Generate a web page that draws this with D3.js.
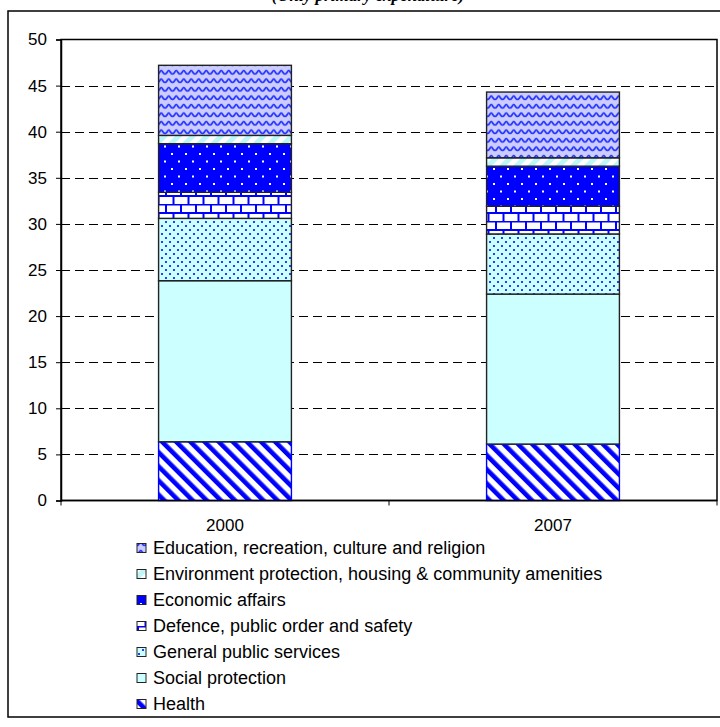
<!DOCTYPE html>
<html>
<head>
<meta charset="utf-8">
<script src="https://cdn.jsdelivr.net/npm/d3@7"></script>
<style>
  html, body { margin: 0; padding: 0; background: #fff; }
  svg { display: block; }
  text { font-family: "Liberation Sans", Arial, sans-serif; }
</style>
</head>
<body>
<svg id="chart" width="720" height="727"></svg>
<script>
// Expenditure by function, % of GDP
const years = ["2000", "2007"];
const categories = [
  "Health",
  "Social protection",
  "General public services",
  "Defence, public order and safety",
  "Economic affairs",
  "Environment protection, housing & community amenities",
  "Education, recreation, culture and religion"
];
const health      = [6.37, 6.12];
const social      = [17.47, 16.27];
const generalPub  = [6.76, 6.52];
const defence     = [2.83, 3.00];
const economic    = [5.27, 4.35];
const environment = [0.90, 0.91];
const education   = [7.60, 7.13];
const yTicks = [0, 5, 10, 15, 20, 25, 30, 35, 40, 45, 50];
const titleText = "(Only primary expenditure)";

const seriesValues = [health, social, generalPub, defence, economic, environment, education];
const patternIds = ["p-health", "p-social", "p-general", "p-defence", "p-economic", "p-environment", "p-education"];

const rows = years.map((y, i) => {
  const r = { year: y };
  categories.forEach((c, k) => { r[c] = seriesValues[k][i]; });
  return r;
});
const stacked = d3.stack().keys(categories)(rows);

const svg = d3.select("#chart");
const defs = svg.append("defs");

// ---- fill patterns ----
const blue = "#0000ff";
function pat(id, w, h, transform) {
  const p = defs.append("pattern").attr("id", id)
    .attr("patternUnits", "userSpaceOnUse")
    .attr("width", w).attr("height", h);
  if (transform) p.attr("patternTransform", transform);
  return p;
}
// Health: diagonal blue stripes
{
  const p = pat("p-health", 10, 10, "rotate(-45)");
  p.append("rect").attr("width", 10).attr("height", 10).attr("fill", "#fff");
  p.append("rect").attr("x", 0).attr("width", 4.6).attr("height", 10).attr("fill", blue);
}
// Social protection: plain light cyan
{
  const p = pat("p-social", 8, 8);
  p.append("rect").attr("width", 8).attr("height", 8).attr("fill", "#ccffff");
}
// General public services: cyan with staggered blue dots
{
  const p = pat("p-general", 8, 8);
  p.append("rect").attr("width", 8).attr("height", 8).attr("fill", "#ccffff");
  p.append("rect").attr("x", 1).attr("y", 1).attr("width", 2).attr("height", 2).attr("fill", "#2a3cff");
  p.append("rect").attr("x", 5).attr("y", 5).attr("width", 2).attr("height", 2).attr("fill", "#2a3cff");
}
// Defence: brick wall
{
  const p = pat("p-defence", 15, 17);
  p.append("rect").attr("width", 15).attr("height", 17).attr("fill", "#fff");
  const g = p.append("g").attr("stroke", blue).attr("stroke-width", 2).attr("fill", "none");
  g.append("line").attr("x1", 0).attr("x2", 15).attr("y1", 0.5).attr("y2", 0.5);
  g.append("line").attr("x1", 0).attr("x2", 15).attr("y1", 9).attr("y2", 9);
  g.append("line").attr("x1", 1).attr("x2", 1).attr("y1", 0).attr("y2", 9);
  g.append("line").attr("x1", 8.5).attr("x2", 8.5).attr("y1", 9).attr("y2", 17);
}
// Economic affairs: blue with white dots
{
  const p = pat("p-economic", 14, 15);
  p.append("rect").attr("width", 14).attr("height", 15).attr("fill", blue);
  p.append("rect").attr("x", 3).attr("y", 3).attr("width", 2).attr("height", 2).attr("fill", "#fff");
  p.append("rect").attr("x", 10).attr("y", 10.5).attr("width", 2).attr("height", 2).attr("fill", "#fff");
}
// Environment: white with pale cyan diagonal
{
  const p = pat("p-environment", 10, 10, "rotate(45)");
  p.append("rect").attr("width", 10).attr("height", 10).attr("fill", "#fff");
  p.append("rect").attr("width", 5).attr("height", 10).attr("fill", "#bdf7f7");
}
// Education: lavender with blue waves
{
  const p = pat("p-education", 15, 8.5);
  p.append("rect").attr("width", 15).attr("height", 8.5).attr("fill", "#ccccff");
  p.append("path")
    .attr("d", "M0,6 C2,6 2.5,2.5 3.75,2.5 C5,2.5 5.5,6 7.5,6 C9.5,6 10,2.5 11.25,2.5 C12.5,2.5 13,6 15,6")
    .attr("fill", "none").attr("stroke", "#2233ff").attr("stroke-width", 1.8);
}

// ---- layout ----
const plot = { left: 61, right: 717, top: 39.5, bottom: 500.5 };
const axisFont = "17px";
const legendFont = "18px";

// outer frame
svg.append("rect")
  .attr("x", 8).attr("y", 11).attr("width", 730).attr("height", 706)
  .attr("fill", "none").attr("stroke", "#000").attr("stroke-width", 1.5);

// title, sitting mostly above the top edge of the page
svg.append("text")
  .attr("x", 368).attr("y", 1)
  .attr("text-anchor", "middle")
  .style("font-family", "'Liberation Serif', 'Times New Roman', serif")
  .style("font-style", "italic").style("font-weight", "bold")
  .style("font-size", "17px")
  .text(titleText);

const x = d3.scaleBand().domain(years).range([plot.left, plot.right]).paddingInner(0).paddingOuter(0);
const y = d3.scaleLinear().domain([0, 50]).range([plot.bottom, plot.top]);
const barW = x.bandwidth() * 0.405;

// dashed gridlines
svg.append("g")
  .selectAll("line")
  .data(yTicks.filter(t => t > 0 && t < 50))
  .join("line")
  .attr("x1", plot.left).attr("x2", plot.right)
  .attr("y1", d => Math.round(y(d)) + 0.5).attr("y2", d => Math.round(y(d)) + 0.5)
  .attr("stroke", "#000").attr("stroke-width", 1)
  .attr("stroke-dasharray", "9,5");

// plot-area border
svg.append("rect")
  .attr("x", plot.left).attr("y", plot.top)
  .attr("width", plot.right - plot.left).attr("height", plot.bottom - plot.top)
  .attr("fill", "none").attr("stroke", "#000").attr("stroke-width", 1.5);

// stacked bars
const layers = svg.append("g").selectAll("g")
  .data(stacked)
  .join("g")
  .attr("fill", (d, i) => `url(#${patternIds[i]})`)
  .attr("stroke", (d, i) => i === 0 ? blue : "#222")
  .attr("stroke-width", 1.4);

layers.selectAll("rect")
  .data(d => d)
  .join("rect")
  .attr("x", d => x(d.data.year) + (x.bandwidth() - barW) / 2)
  .attr("width", barW)
  .attr("y", d => y(d[1]))
  .attr("height", d => y(d[0]) - y(d[1]));

// y axis
const yAxis = svg.append("g")
  .attr("transform", `translate(${plot.left},0)`)
  .call(d3.axisLeft(y).tickValues(yTicks).tickSize(5).tickPadding(9).tickFormat(d3.format("d")));
yAxis.select(".domain").attr("stroke", "#000").attr("stroke-width", 1.5);
yAxis.selectAll(".tick line").attr("stroke", "#000");
yAxis.selectAll("text").style("font-size", axisFont).attr("fill", "#000")
  .style("font-family", "'Liberation Sans', Arial, sans-serif");

// x axis: ticks at category boundaries, labels centred on bars
const xAxisG = svg.append("g").attr("transform", `translate(0,${plot.bottom})`);
xAxisG.append("line").attr("x1", plot.left).attr("x2", plot.right)
  .attr("stroke", "#000").attr("stroke-width", 1.5);
const bounds = years.map(yv => x(yv)).concat([x(years[years.length - 1]) + x.bandwidth()]);
xAxisG.selectAll("line.tk").data(bounds).join("line").attr("class", "tk")
  .attr("x1", d => d).attr("x2", d => d).attr("y1", 0).attr("y2", 5)
  .attr("stroke", "#000");
xAxisG.selectAll("text").data(years).join("text")
  .attr("x", d => x(d) + x.bandwidth() / 2)
  .attr("y", 30)
  .attr("text-anchor", "middle")
  .style("font-size", axisFont)
  .text(d => d);

// legend (top entry is the top of the stack)
const legendOrder = d3.range(categories.length).reverse();
const legend = svg.append("g");
const lg = legend.selectAll("g").data(legendOrder).join("g")
  .attr("transform", (d, i) => `translate(137,${548 + i * 26})`);
lg.append("rect")
  .attr("x", 0).attr("y", -4.5).attr("width", 9).attr("height", 9)
  .attr("fill", d => `url(#${patternIds[d]})`)
  .attr("stroke", "#222").attr("stroke-width", 1);
lg.append("text")
  .attr("x", 16).attr("y", 0).attr("dy", "0.36em")
  .style("font-size", legendFont)
  .text(d => categories[d]);
</script>
</body>
</html>
